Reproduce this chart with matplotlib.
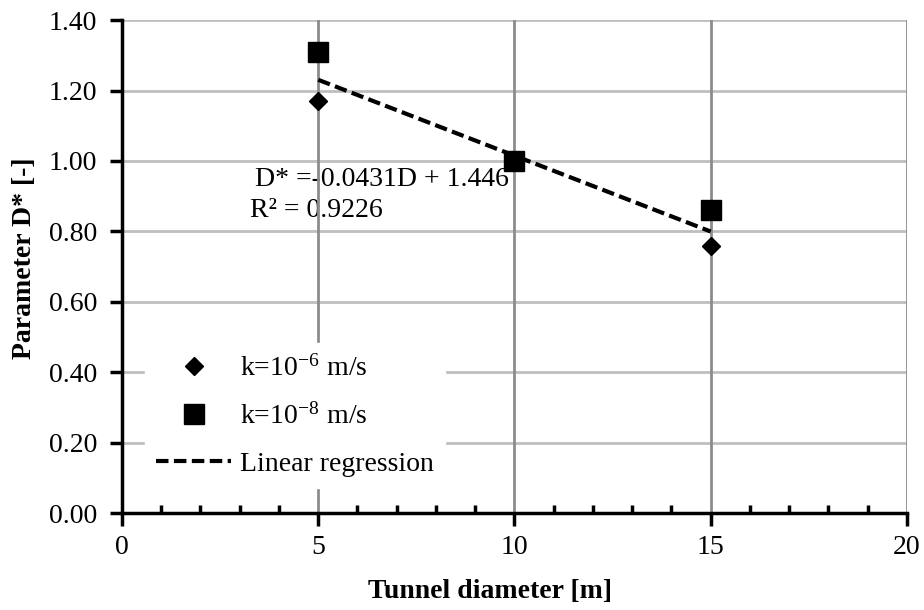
import numpy as np
import matplotlib
matplotlib.use('Agg')
import matplotlib.pyplot as plt
from matplotlib.lines import Line2D

plt.rcParams['font.family'] = ['Liberation Serif', 'DejaVu Serif']
plt.rcParams['mathtext.fontset'] = 'stix'

# data
diameter = [5, 10, 15]
d_star_k6 = [1.17, 1.00, 0.758]
d_star_k8 = [1.31, 1.00, 0.86]
slope = -0.0431
intercept = 1.446
r2 = 0.9226

fig = plt.figure(figsize=(9.24, 6.10), dpi=100)
ax = fig.add_axes([0.132, 0.159, 0.8496, 0.808])

fs = 20
dash = (0, (3, 1.3))
x_fit = np.array([min(diameter), max(diameter)])
ax.plot(x_fit, slope * x_fit + intercept, color='black', linestyle=dash,
        linewidth=3, zorder=3)
ax.plot(diameter, d_star_k6, linestyle='none', marker='D', markersize=9.5,
        color='black', zorder=4)
ax.plot(diameter, d_star_k8, linestyle='none', marker='s', markersize=14,
        color='black', zorder=4)

ax.set_xlim(0, 20)
ax.set_ylim(0, 1.40)
ax.set_xticks([0, 5, 10, 15, 20])
ax.set_xticks(np.arange(0, 21, 1), minor=True)
yt = np.arange(0, 1.41, 0.2)
ax.set_yticks(yt)
ax.set_yticklabels(['{:.2f}'.format(v) for v in yt])

# gridlines: darker vertical, lighter horizontal
for v in [5, 10, 15, 20]:
    ax.axvline(v, color='#8c8c8c', linewidth=2, zorder=2.5)
for v in yt[1:]:
    ax.axhline(v, color='#bfbfbf', linewidth=2, zorder=0.9)

for s in ['top', 'right']:
    ax.spines[s].set_visible(False)
for s in ['left', 'bottom']:
    ax.spines[s].set_linewidth(2.5)
    ax.spines[s].set_zorder(5)

ax.tick_params(axis='both', which='major', labelsize=fs, width=2.5, length=9,
               direction='out', color='black')
ax.tick_params(axis='x', which='minor', direction='in', length=6, width=2.5,
               top=False)
ax.tick_params(axis='x', which='major', pad=7)
ax.tick_params(axis='y', which='major', pad=9)

ax.set_xlabel('Tunnel diameter [m]', fontsize=fs, fontweight='bold')
ax.set_ylabel('Parameter D* [-]', fontsize=fs, fontweight='bold')
ax.xaxis.set_label_coords(0.469, -0.133)
ax.yaxis.set_label_coords(-0.108, 0.517)

# trend line label
ax.text(3.4, 0.948, 'D* =-0.0431D + {}'.format(intercept), fontsize=fs,
        va='center', ha='left', zorder=2)
ax.text(3.27, 0.86, 'R² = {}'.format(r2), fontsize=fs, va='center', ha='left',
        zorder=2)

handles = [
    Line2D([], [], linestyle='none', marker='D', markersize=9.5, color='black'),
    Line2D([], [], linestyle='none', marker='s', markersize=14, color='black'),
    Line2D([], [], color='black', linestyle=dash, linewidth=3),
]
labels = [r'k=10$^{\mathregular{-6}}$ m/s', r'k=10$^{\mathregular{-8}}$ m/s',
          'Linear regression']
leg = ax.legend(handles, labels, loc='lower left', bbox_to_anchor=(0.012, 0.022),
                fontsize=fs, frameon=True, framealpha=1, edgecolor='white',
                fancybox=False, handlelength=2.7, handletextpad=0.3,
                labelspacing=0.78, borderpad=0.4)
leg.set_zorder(6)

fig.savefig('out.png', dpi=100)
